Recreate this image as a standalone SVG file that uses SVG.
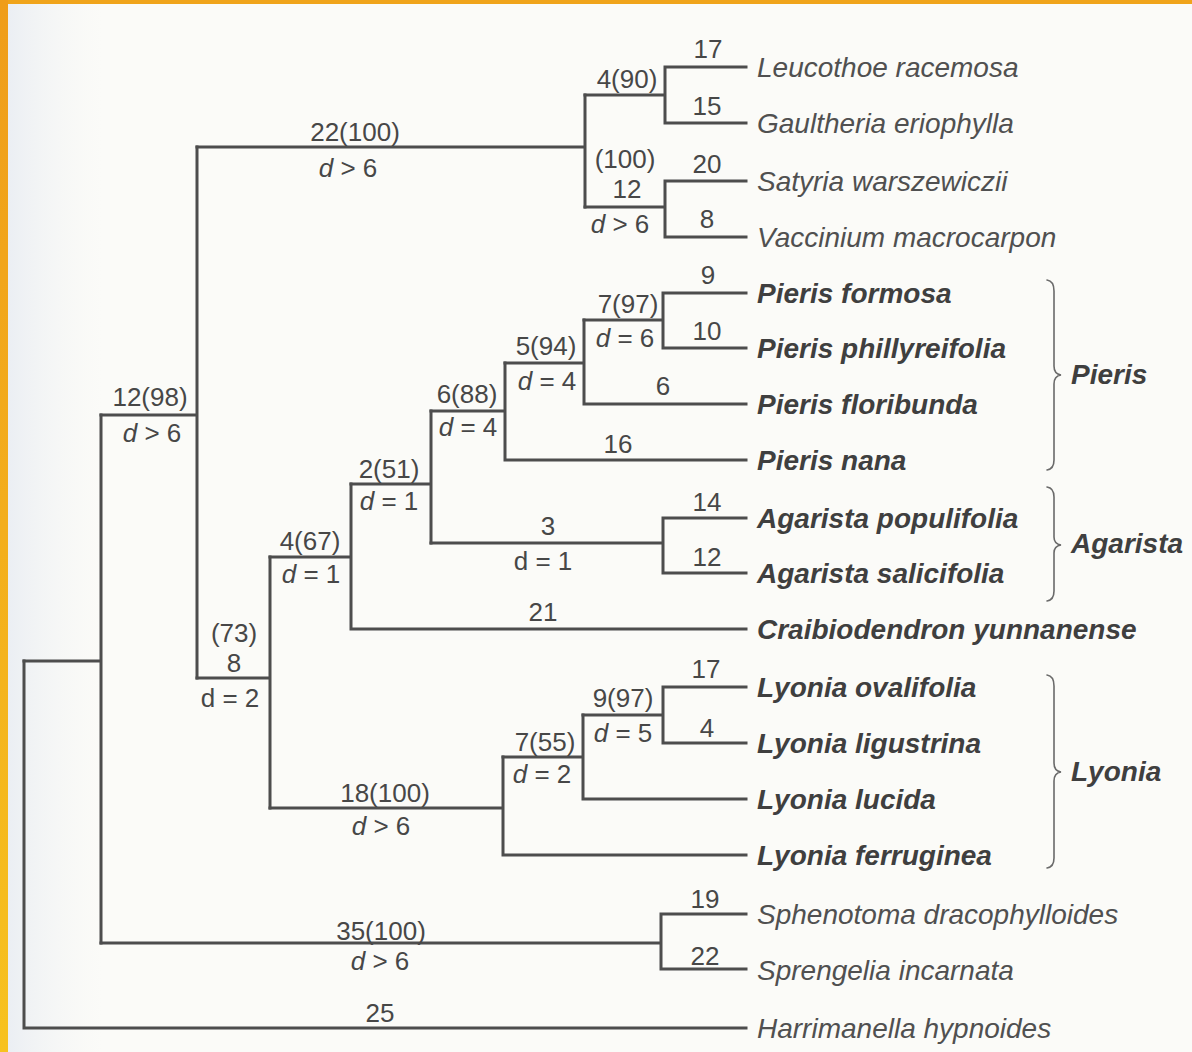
<svg xmlns="http://www.w3.org/2000/svg" width="1192" height="1052" viewBox="0 0 1192 1052">
  <defs>
    <linearGradient id="edge" x1="0" y1="0" x2="0" y2="1">
      <stop offset="0" stop-color="#ef9d1a"/>
      <stop offset="0.5" stop-color="#f3ae1c"/>
      <stop offset="1" stop-color="#f7c21f"/>
    </linearGradient>
    <linearGradient id="haze" x1="0" y1="0" x2="1" y2="0">
      <stop offset="0" stop-color="#e9edf3" stop-opacity="0.9"/>
      <stop offset="1" stop-color="#f4f5f4" stop-opacity="0"/>
    </linearGradient>
    <style>
      .br { fill: none; stroke: #4d4d4d; stroke-width: 3; stroke-linecap: square; }
      .brace { fill: none; stroke: #6a6a6a; stroke-width: 1.6; stroke-linecap: round; }
      .num { font-family: "Liberation Sans", Arial, sans-serif; font-size: 26px; fill: #474747; text-anchor: middle; }
      .it { font-style: italic; }
      .sp { font-family: "Liberation Sans", Arial, sans-serif; font-size: 28px; font-style: italic; fill: #505050; }
      .spb { font-family: "Liberation Sans", Arial, sans-serif; font-size: 28px; font-style: italic; font-weight: bold; fill: #3f3f3f; }
    </style>
  </defs>

  <!-- paper and page edge -->
  <rect x="0" y="0" width="1192" height="1052" fill="#fbfbf8"/>
  <rect x="8" y="4" width="95" height="1048" fill="url(#haze)"/>
  <rect x="0" y="0" width="1192" height="4" fill="#f0a41b"/>
  <rect x="0" y="0" width="8" height="1052" fill="url(#edge)"/>

  <!-- branches -->
  <g id="connectors">
    <!-- Leucothoe / Gaultheria -->
    <path class="br" d="M665 67 V123 M665 67 H746 M665 123 H746 M585 95 H665"/>
    <!-- Satyria / Vaccinium -->
    <path class="br" d="M665 181 V237 M665 181 H746 M665 237 H746 M585 207 H665"/>
    <path class="br" d="M585 95 V207 M197 147 H585"/>
    <!-- Pieris -->
    <path class="br" d="M663 293 V348 M663 293 H746 M663 348 H746 M584 320 H663"/>
    <path class="br" d="M584 320 V404 M584 404 H746 M505 363 H584"/>
    <path class="br" d="M505 363 V460 M505 460 H746 M431 411 H505"/>
    <!-- Agarista -->
    <path class="br" d="M663 518 V573 M663 518 H746 M663 573 H746 M431 543 H663"/>
    <path class="br" d="M431 411 V543 M351 484 H431"/>
    <!-- Craibiodendron -->
    <path class="br" d="M351 484 V629 M351 629 H746 M270 557 H351"/>
    <!-- Lyonia -->
    <path class="br" d="M663 687 V743 M663 687 H746 M663 743 H746 M583 715 H663"/>
    <path class="br" d="M583 715 V799 M583 799 H746 M503 757 H583"/>
    <path class="br" d="M503 757 V855 M503 855 H746 M270 808 H503"/>
    <path class="br" d="M270 557 V808 M197 678 H270"/>
    <path class="br" d="M197 147 V678 M101 415 H197"/>
    <!-- Sphenotoma / Sprengelia -->
    <path class="br" d="M661 914 V969 M661 914 H746 M661 969 H746 M101 943 H661"/>
    <path class="br" d="M101 415 V943 M24 661 H101"/>
    <!-- Harrimanella -->
    <path class="br" d="M24 661 V1028 H746"/>
  </g>

  <!-- terminal taxa -->
  <g id="leaf-leucothoe-racemosa"><text class="sp" x="757" y="77">Leucothoe racemosa</text><text class="num" x="708" y="58">17</text></g>
  <g id="leaf-gaultheria-eriophylla"><text class="sp" x="757" y="133">Gaultheria eriophylla</text><text class="num" x="707" y="115">15</text></g>
  <g id="leaf-satyria-warszewiczii"><text class="sp" x="757" y="191">Satyria warszewiczii</text><text class="num" x="707" y="173">20</text></g>
  <g id="leaf-vaccinium-macrocarpon"><text class="sp" x="757" y="247">Vaccinium macrocarpon</text><text class="num" x="707" y="228">8</text></g>
  <g id="leaf-pieris-formosa"><text class="spb" x="757" y="303">Pieris formosa</text><text class="num" x="708" y="284">9</text></g>
  <g id="leaf-pieris-phillyreifolia"><text class="spb" x="757" y="358">Pieris phillyreifolia</text><text class="num" x="707" y="340">10</text></g>
  <g id="leaf-pieris-floribunda"><text class="spb" x="757" y="414">Pieris floribunda</text><text class="num" x="663" y="395">6</text></g>
  <g id="leaf-pieris-nana"><text class="spb" x="757" y="470">Pieris nana</text><text class="num" x="618" y="453">16</text></g>
  <g id="leaf-agarista-populifolia"><text class="spb" x="757" y="528">Agarista populifolia</text><text class="num" x="707" y="511">14</text></g>
  <g id="leaf-agarista-salicifolia"><text class="spb" x="757" y="583">Agarista salicifolia</text><text class="num" x="707" y="566">12</text></g>
  <g id="leaf-craibiodendron-yunnanense"><text class="spb" x="757" y="639">Craibiodendron yunnanense</text><text class="num" x="543" y="621">21</text></g>
  <g id="leaf-lyonia-ovalifolia"><text class="spb" x="757" y="697">Lyonia ovalifolia</text><text class="num" x="706" y="678">17</text></g>
  <g id="leaf-lyonia-ligustrina"><text class="spb" x="757" y="753">Lyonia ligustrina</text><text class="num" x="707" y="737">4</text></g>
  <g id="leaf-lyonia-lucida"><text class="spb" x="757" y="809">Lyonia lucida</text></g>
  <g id="leaf-lyonia-ferruginea"><text class="spb" x="757" y="865">Lyonia ferruginea</text></g>
  <g id="leaf-sphenotoma-dracophylloides"><text class="sp" x="757" y="924">Sphenotoma dracophylloides</text><text class="num" x="705" y="908">19</text></g>
  <g id="leaf-sprengelia-incarnata"><text class="sp" x="757" y="980">Sprengelia incarnata</text><text class="num" x="705" y="965">22</text></g>
  <g id="leaf-harrimanella-hypnoides"><text class="sp" x="757" y="1038">Harrimanella hypnoides</text><text class="num" x="380" y="1022">25</text></g>

  <!-- internal nodes: support and decay labels -->
  <g id="node-leucothoe-gaultheria"><text class="num" x="627" y="88">4(90)</text></g>
  <g id="node-satyria-vaccinium"><text class="num" x="625" y="168">(100)</text><text class="num" x="627" y="198">12</text><text class="num" x="620" y="233"><tspan class="it">d</tspan> &gt; 6</text></g>
  <g id="node-vaccinieae-gaultherieae"><text class="num" x="355" y="141">22(100)</text><text class="num" x="348" y="177"><tspan class="it">d</tspan> &gt; 6</text></g>
  <g id="node-pieris-formosa-phillyreifolia"><text class="num" x="628" y="313">7(97)</text><text class="num" x="625" y="347"><tspan class="it">d</tspan> = 6</text></g>
  <g id="node-pieris-three"><text class="num" x="546" y="355">5(94)</text><text class="num" x="547" y="390"><tspan class="it">d</tspan> = 4</text></g>
  <g id="node-pieris"><text class="num" x="467" y="403">6(88)</text><text class="num" x="468" y="436"><tspan class="it">d</tspan> = 4</text></g>
  <g id="node-agarista"><text class="num" x="548" y="535">3</text><text class="num" x="543" y="570">d = 1</text></g>
  <g id="node-pieris-agarista"><text class="num" x="389" y="478">2(51)</text><text class="num" x="389" y="510"><tspan class="it">d</tspan> = 1</text></g>
  <g id="node-pieris-agarista-craibiodendron"><text class="num" x="310" y="550">4(67)</text><text class="num" x="311" y="583"><tspan class="it">d</tspan> = 1</text></g>
  <g id="node-lyonia-ovalifolia-ligustrina"><text class="num" x="623" y="707">9(97)</text><text class="num" x="623" y="742"><tspan class="it">d</tspan> = 5</text></g>
  <g id="node-lyonia-three"><text class="num" x="545" y="751">7(55)</text><text class="num" x="542" y="783"><tspan class="it">d</tspan> = 2</text></g>
  <g id="node-lyonia"><text class="num" x="385" y="802">18(100)</text><text class="num" x="381" y="835"><tspan class="it">d</tspan> &gt; 6</text></g>
  <g id="node-lyonieae"><text class="num" x="234" y="642">(73)</text><text class="num" x="234" y="672">8</text><text class="num" x="230" y="707">d = 2</text></g>
  <g id="node-ingroup-core"><text class="num" x="150" y="406">12(98)</text><text class="num" x="152" y="442"><tspan class="it">d</tspan> &gt; 6</text></g>
  <g id="node-sphenotoma-sprengelia"><text class="num" x="381" y="940">35(100)</text><text class="num" x="380" y="970"><tspan class="it">d</tspan> &gt; 6</text></g>

  <!-- generic groupings -->
  <g id="group-pieris">
    <path class="brace" d="M1047 280 Q1054 281 1054 291 V366 Q1054 374 1061 375 Q1054 376 1054 384 V460 Q1054 469 1047 470"/>
    <text class="spb" x="1071" y="384">Pieris</text>
  </g>
  <g id="group-agarista">
    <path class="brace" d="M1047 487 Q1054 488 1054 497 V537 Q1054 544 1061 545 Q1054 546 1054 553 V591 Q1054 600 1047 601"/>
    <text class="spb" x="1071" y="553">Agarista</text>
  </g>
  <g id="group-lyonia">
    <path class="brace" d="M1047 675 Q1054 676 1054 686 V763 Q1054 771 1061 772 Q1054 773 1054 781 V858 Q1054 867 1047 868"/>
    <text class="spb" x="1071" y="781">Lyonia</text>
  </g>
</svg>
